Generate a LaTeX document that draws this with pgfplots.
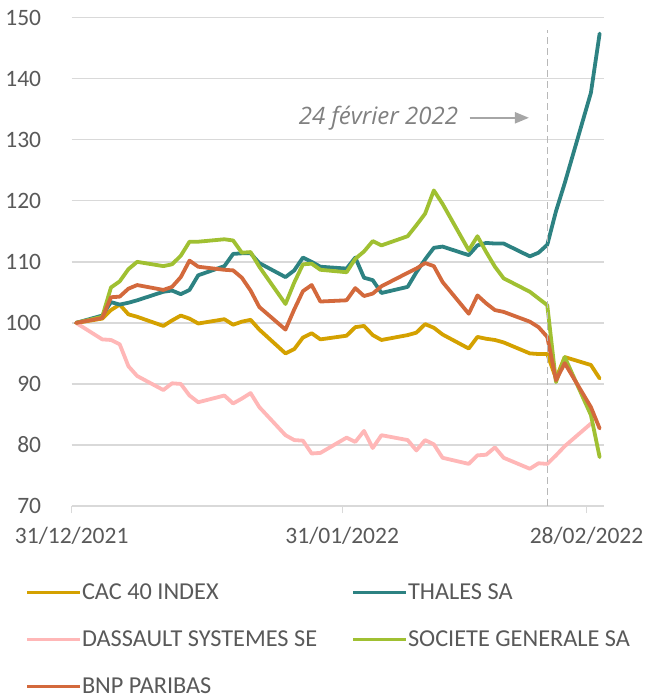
\documentclass[border=0pt]{standalone}
\usepackage{fontspec}
\setmainfont{Carlito}
\newfontfamily\annfont{Open Sans}
\usepackage{pgfplots}
\usepackage{pgfplotstable}
\pgfplotsset{compat=1.18}
\usetikzlibrary{arrows.meta}
\definecolor{cac}{RGB}{212,161,0}
\definecolor{thales}{RGB}{45,130,130}
\definecolor{dassault}{RGB}{255,183,183}
\definecolor{socgen}{RGB}{160,192,50}
\definecolor{bnp}{RGB}{211,105,60}
\definecolor{txt}{RGB}{89,89,89}
\definecolor{grid}{RGB}{217,217,217}
\newcommand{\fs}{\fontsize{23.5bp}{28bp}\selectfont}
\newcommand{\lfs}{\fontsize{24.3bp}{29bp}\selectfont}

% x = trading day index (days since 31/12/2021) + 0.5
\pgfplotstableread{
x     cac    thales dassault socgen bnp
0.5   100.0  100.0  100.0    100.0  100.0
3.5   100.7  101.2  97.3     101.0  100.8
4.5   102.1  103.4  97.2     105.8  104.2
5.5   103.0  103.0  96.5     106.8  104.3
6.5   101.4  103.3  92.9     108.8  105.6
7.5   101.0  103.7  91.3     110.0  106.2
10.5  99.5   105.1  89.0     109.3  105.4
11.5  100.4  105.3  90.1     109.6  105.9
12.5  101.2  104.7  90.0     111.0  107.5
13.5  100.7  105.4  88.1     113.3  110.2
14.5  99.9   107.8  87.0     113.3  109.2
17.5  100.6  109.3  88.1     113.7  108.7
18.5  99.7   111.3  86.8     113.5  108.6
19.5  100.2  111.4  87.6     111.5  107.4
20.5  100.5  111.4  88.5     111.6  105.3
21.5  98.9   109.8  86.2     109.2  102.6
24.5  95.0   107.5  81.6     103.1  98.9
25.5  95.7   108.6  80.8     106.6  102.2
26.5  97.6   110.7  80.7     109.6  105.2
27.5  98.3   110.0  78.6     109.7  106.2
28.5  97.3   109.2  78.7     108.7  103.5
31.5  97.9   108.9  81.2     108.3  103.7
32.5  99.3   110.7  80.5     110.5  105.7
33.5  99.5   107.4  82.3     111.7  104.4
34.5  98.0   107.0  79.5     113.4  104.8
35.5  97.2   104.9  81.6     112.7  106.0
38.5  98.0   105.9  80.8     114.2  108.2
39.5  98.4   108.3  79.1     116.0  108.9
40.5  99.8   110.4  80.8     117.9  109.8
41.5  99.2   112.3  80.1     121.7  109.3
42.5  98.1   112.5  77.9     119.5  106.7
45.5  95.8   111.1  76.9     111.9  101.5
46.5  97.7   112.7  78.3     114.2  104.5
47.5  97.4   113.1  78.4     111.6  103.2
48.5  97.2   113.0  79.6     109.2  102.1
49.5  96.8   113.0  77.9     107.3  101.8
52.5  95.0   110.9  76.1     105.1  100.2
53.5  94.9   111.5  77.0     104.0  99.3
54.5  94.9   112.8  76.9     102.9  97.7
55.5  90.9   118.3  78.3     90.3   90.6
56.5  94.4   122.9  79.8     94.4   93.4
59.5  93.1   137.7  83.5     84.9   86.2
60.5  90.9   147.4  nan      78.0   82.7
}\datatable

\begin{document}
\begin{tikzpicture}
\path[use as bounding box] (0,0) rectangle (649bp,699bp);
\begin{axis}[
  at={(71.7bp,193bp)}, anchor=south west,
  scale only axis, width=532.3bp, height=488.3bp,
  xmin=0, xmax=61, ymin=70, ymax=150,
  ytick={70,80,...,150},
  xtick={0,31,59},
  xticklabels={31/12/2021,31/01/2022,28/02/2022},
  axis x line*=bottom, axis y line*=left,
  x axis line style={draw=grid, line width=1.3bp},
  y axis line style={draw=none},
  ytick style={draw=none},
  xtick style={draw=grid, line width=1.3bp},
  tick align=outside, major tick length=7bp,
  ymajorgrids, grid style={draw=grid, line width=1.3bp},
  /pgf/number format/assume math mode=true,
  tick label style={font=\fs, text=txt, inner sep=0pt},
  yticklabel style={anchor=east, xshift=-23.4bp},
  xticklabel style={anchor=north, yshift=-14bp},
  unbounded coords=jump,
  every axis plot/.append style={line width=3.8bp, line join=round, line cap=round},
  legend columns=2,
  legend cell align=left,
  legend style={at={(-0.0877,-0.1585)}, anchor=north west, draw=none, fill=none,
    font=\lfs, text=txt, inner sep=0pt, row sep=29bp,
    nodes={inner sep=0pt, text height=16bp, text depth=2bp},
    /tikz/column 1/.style={column sep=0bp},
    /tikz/column 2/.style={column sep=34bp},
    /tikz/column 3/.style={column sep=0bp}},
  legend image code/.code={\draw[#1, line cap=butt] (0bp,0bp) -- (53bp,0bp);},
]
\addplot[cac] table[x=x, y=cac] {\datatable};
\addlegendentry{CAC 40 INDEX}
\addplot[thales] table[x=x, y=thales] {\datatable};
\addlegendentry{THALES SA}
\addplot[dassault] table[x=x, y=dassault] {\datatable};
\addlegendentry{DASSAULT SYSTEMES SE}
\addplot[socgen] table[x=x, y=socgen] {\datatable};
\addlegendentry{SOCIETE GENERALE SA}
\addplot[bnp] table[x=x, y=bnp] {\datatable};
\addlegendentry{BNP PARIBAS}
\draw[dash pattern=on 7bp off 4bp, color=black!28, line width=1.5bp]
  (axis cs:54.5,70) -- (axis cs:54.5,148);
\node[anchor=east, inner sep=0pt, font=\fontsize{24bp}{28bp}\selectfont\annfont\itshape, text=black!50]
  at (axis cs:44.3,133.6) {24 février 2022};
\draw[color=black!35, line width=2bp, -{Triangle[length=14bp, width=11bp]}]
  (axis cs:45.6,133.6) -- (axis cs:52.4,133.6);
\end{axis}
\end{tikzpicture}
\end{document}
